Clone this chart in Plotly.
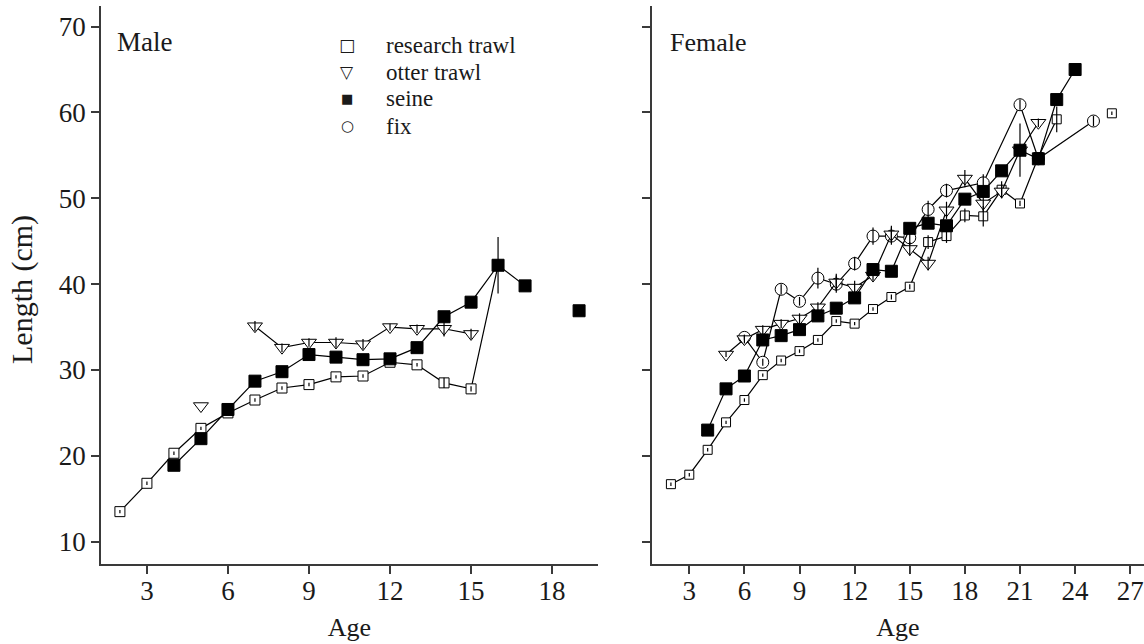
import plotly.graph_objects as go

# ---------------- data ----------------
# Male
m_rt_age = [2, 3, 4, 5, 6, 7, 8, 9, 10, 11, 12, 13, 14, 15, 16]
m_rt_len = [13.5, 16.8, 20.3, 23.2, 25.0, 26.5, 27.9, 28.3, 29.2, 29.3, 30.9, 30.6, 28.5, 27.8, 42.2]
m_rt_err = [0.2, 0.2, 0.2, 0.2, 0.2, 0.2, 0.2, 0.2, 0.2, 0.2, 0.2, 0.2, 0.6, 0.3, 0]

m_ot_age = [5, None, 7, 8, 9, 10, 11, 12, 13, 14, 15]
m_ot_len = [25.8, None, 35.1, 32.6, 33.2, 33.2, 33.0, 35.0, 34.8, 34.8, 34.2]
m_ot_err = [0, 0, 0.6, 0.5, 0.5, 0.6, 0.6, 0.4, 0.5, 0.9, 0.6]

m_se_age = [4, 5, 6, 7, 8, 9, 10, 11, 12, 13, 14, 15, 16, 17, None, 19]
m_se_len = [18.9, 22.0, 25.4, 28.7, 29.8, 31.8, 31.5, 31.2, 31.3, 32.6, 36.2, 37.9, 42.2, 39.8, None, 36.9]
m_se_err = [0, 0, 0, 0, 0, 0, 0, 0, 0, 0, 0, 0, 3.3, 0.6, 0, 0]

# Female
f_rt_age = [2, 3, 4, 5, 6, 7, 8, 9, 10, 11, 12, 13, 14, 15, 16, 17, 18, 19, 20, 21, 22, 23, None, 26]
f_rt_len = [16.7, 17.8, 20.7, 23.9, 26.5, 29.4, 31.1, 32.2, 33.5, 35.7, 35.4, 37.1, 38.5, 39.7, 44.9, 45.6, 48.0, 47.9, 51.0, 49.4, 54.8, 59.2, None, 59.9]
f_rt_err = [0.2, 0.2, 0.2, 0.2, 0.2, 0.2, 0.2, 0.2, 0.2, 0.2, 0.2, 0.2, 0.3, 0.3, 0.8, 0.8, 0.8, 1.2, 1.0, 0.3, 0, 1.5, 0, 0.2]

f_ot_age = [5, 6, 7, 8, 9, 10, 11, 12, 13, 14, 15, 16, 17, 18, 19, 20, 21, 22]
f_ot_len = [31.8, 33.6, 34.7, 35.4, 36.0, 37.3, 40.2, 39.6, 41.0, 45.8, 44.1, 42.4, 48.6, 52.3, 49.4, 50.8, 55.6, 58.8]
f_ot_err = [0.3, 0.5, 0.5, 0.5, 0.6, 0.6, 1.0, 0.8, 0.6, 1.0, 0.8, 0.8, 1.0, 1.0, 1.0, 0.8, 0, 0.5]

f_se_age = [4, 5, 6, 7, 8, 9, 10, 11, 12, 13, 14, 15, 16, 17, 18, 19, 20, 21, 22, 23, 24]
f_se_len = [23.0, 27.8, 29.3, 33.5, 34.0, 34.7, 36.3, 37.2, 38.4, 41.7, 41.5, 46.5, 47.1, 46.8, 49.9, 50.8, 53.2, 55.6, 54.6, 61.5, 65.0]
f_se_err = [0, 0, 0, 0, 0, 0, 0, 0, 0, 0, 0, 0, 0, 0, 0, 0, 0, 3.1, 0, 0, 0]

f_fx_age = [6, 7, 8, 9, 10, 11, 12, 13, 14, 15, 16, 17, 19, 21, 22, 25]
f_fx_len = [33.8, 30.9, 39.4, 38.0, 40.7, 40.0, 42.4, 45.6, 45.6, 45.4, 48.7, 50.9, 51.8, 60.9, 54.6, 59.0]
f_fx_err = [0.3, 0.4, 0.6, 0.5, 1.2, 1.0, 0.8, 1.0, 1.0, 0.8, 1.0, 0.8, 1.0, 0.6, 0, 0.6]

series_names = ["research trawl", "otter trawl", "seine", "fix"]
legend_glyphs = ["\u25a1", "\u25bd", "\u25a0", "\u25cb"]
x_ticks = [3, 6, 9, 12, 15, 18, 21, 24, 27]
y_ticks = [10, 20, 30, 40, 50, 60, 70]

# ---------------- styles ----------------
FONT = "Liberation Serif"
INK = "black"
TXT = "#1a1a1a"
AX = "#3a3a3a"
sty = {
    "research trawl": dict(symbol="square", size=9, color="white"),
    "otter trawl": dict(symbol="triangle-down", size=13, color="white"),
    "seine": dict(symbol="square", size=12, color="black"),
    "fix": dict(symbol="circle", size=12, color="white"),
}

fig = go.Figure()


def add_series(x, y, name, xa, ya, size=None):
    s = sty[name]
    fig.add_trace(go.Scatter(
        x=x, y=y, mode="lines+markers", xaxis=xa, yaxis=ya, showlegend=False,
        line=dict(color=INK, width=1.2), connectgaps=False,
        marker=dict(symbol=s["symbol"], size=size or s["size"], color=s["color"],
                    line=dict(color=INK, width=1)),
        name=name))


def add_err(x, y, err, xa, ya):
    xs = [a for a, b in zip(x, y) if a is not None]
    ys = [b for a, b in zip(x, y) if a is not None]
    es = [e for a, e in zip(x, err) if a is not None]
    fig.add_trace(go.Scatter(
        x=xs, y=ys, mode="markers", xaxis=xa, yaxis=ya, showlegend=False,
        marker=dict(size=2, opacity=0),
        error_y=dict(type="data", array=es, visible=True, width=0,
                     color=INK, thickness=1.2),
        hoverinfo="skip"))


# male panel
add_series(m_rt_age, m_rt_len, "research trawl", "x", "y", size=10)
add_series(m_ot_age, m_ot_len, "otter trawl", "x", "y")
add_series(m_se_age, m_se_len, "seine", "x", "y")
# female panel
add_series(f_rt_age, f_rt_len, "research trawl", "x2", "y2")
add_series(f_fx_age, f_fx_len, "fix", "x2", "y2")
add_series(f_ot_age, f_ot_len, "otter trawl", "x2", "y2")
add_series(f_se_age, f_se_len, "seine", "x2", "y2")

for x, y, e, xa, ya in [
    (m_rt_age, m_rt_len, m_rt_err, "x", "y"),
    (m_ot_age, m_ot_len, m_ot_err, "x", "y"),
    (m_se_age, m_se_len, m_se_err, "x", "y"),
    (f_rt_age, f_rt_len, f_rt_err, "x2", "y2"),
    (f_ot_age, f_ot_len, f_ot_err, "x2", "y2"),
    (f_se_age, f_se_len, f_se_err, "x2", "y2"),
    (f_fx_age, f_fx_len, f_fx_err, "x2", "y2"),
]:
    add_err(x, y, e, xa, ya)

W, H = 1144, 644
L, R, T, B = 101, 0, 6, 80
pw = W - L - R
ph = H - T - B


def px(xp):
    return (xp - L) / pw


def py(yp):
    return (H - B - yp) / ph


d1 = [0, px(598)]
d2 = [px(652), 1]

axis_common = dict(showgrid=False, zeroline=False, showline=True, linecolor=AX,
                   linewidth=1.5, ticks="outside", ticklen=8, tickwidth=1.5,
                   tickcolor=AX, tickfont=dict(family=FONT, size=27, color=TXT))

annotations = [
    dict(text="Male", xref="paper", yref="paper", x=px(115), y=py(42),
         xanchor="left", yanchor="middle", showarrow=False,
         font=dict(family=FONT, size=27, color=TXT)),
    dict(text="Female", xref="paper", yref="paper", x=px(668), y=py(42),
         xanchor="left", yanchor="middle", showarrow=False,
         font=dict(family=FONT, size=26, color=TXT)),
    dict(text="Length (cm)", xref="paper", yref="paper", x=px(22), y=py(290),
         xanchor="center", yanchor="middle", showarrow=False, textangle=-90,
         font=dict(family=FONT, size=30, color=TXT)),
]
# legend (symbols + labels)
leg_rows = [45, 72, 99, 126]
glyph_sizes = [17, 17, 13, 15]
for name, g, yr, gs in zip(series_names, legend_glyphs, leg_rows, glyph_sizes):
    annotations.append(dict(text=g, xref="paper", yref="paper", x=px(347), y=py(yr),
                            xanchor="center", yanchor="middle", showarrow=False,
                            font=dict(family="DejaVu Sans", size=gs, color=TXT)))
    annotations.append(dict(text=name, xref="paper", yref="paper", x=px(384), y=py(yr),
                            xanchor="left", yanchor="middle", showarrow=False,
                            font=dict(family=FONT, size=23, color=TXT)))

fig.update_layout(
    width=W, height=H, margin=dict(l=L, r=R, t=T, b=B),
    paper_bgcolor="white", plot_bgcolor="white",
    font=dict(family=FONT, size=24, color=TXT),
    xaxis=dict(domain=d1, range=[1.3, 19.7], tickvals=x_ticks[:6], anchor="y",
               ticklabelstandoff=-6,
               title=dict(text="Age", font=dict(family=FONT, size=26), standoff=13),
               **axis_common),
    yaxis=dict(domain=[0, 1], range=[7.4, 72.4], tickvals=y_ticks, anchor="x",
               **axis_common),
    xaxis2=dict(domain=d2, range=[0.97, 27.75], tickvals=x_ticks, anchor="y2",
                ticklabelstandoff=-6,
                title=dict(text="Age", font=dict(family=FONT, size=26), standoff=13),
                **axis_common),
    yaxis2=dict(domain=[0, 1], range=[7.4, 72.4], tickvals=y_ticks, anchor="x2",
                showticklabels=False, **axis_common),
    showlegend=False,
    annotations=annotations,
)

fig.write_html("out.html", config={"displayModeBar": False},
               post_script="document.body.style.margin='0px';")
